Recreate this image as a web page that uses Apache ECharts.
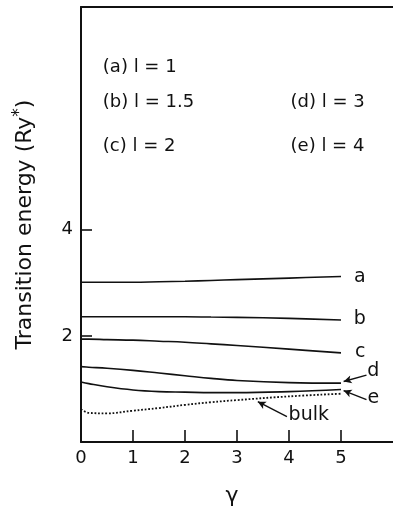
<!DOCTYPE html>
<html>
<head>
<meta charset="UTF-8">
<script src="https://cdn.jsdelivr.net/npm/echarts@6/dist/echarts.min.js"></script>
<style>
  html, body { margin: 0; padding: 0; background: #fff; }
  #chart { width: 393px; height: 516px; }
</style>
</head>
<body>
<div id="chart"></div>
<script>
// gamma values shared by all curves
const gamma = [0, 0.15, 0.5, 1, 1.5, 2, 2.5, 3, 4, 5];

// transition energies (Ry*)
const curveA = [3.01, 3.01, 3.01, 3.01, 3.02, 3.03, 3.045, 3.06, 3.09, 3.12];
const curveB = [2.36, 2.36, 2.36, 2.36, 2.36, 2.36, 2.355, 2.35, 2.33, 2.30];
const curveC = [1.94, 1.94, 1.93, 1.92, 1.90, 1.88, 1.85, 1.82, 1.75, 1.68];
const curveD = [1.42, 1.41, 1.39, 1.35, 1.30, 1.25, 1.20, 1.16, 1.12, 1.11];
const curveE = [1.13, 1.10, 1.04, 0.98, 0.95, 0.94, 0.93, 0.93, 0.95, 0.99];
const bulk   = [0.62, 0.55, 0.54, 0.59, 0.64, 0.70, 0.75, 0.79, 0.86, 0.91];

const xTickLabels = [0, 1, 2, 3, 4, 5];
const yTickLabels = [2, 4];

// curve letters next to the line ends, in data units
const curveNames = [
  { text: 'a', at: [5.36, 3.10] },
  { text: 'b', at: [5.36, 2.31] },
  { text: 'c', at: [5.37, 1.69] },
  { text: 'd', at: [5.62, 1.34] },
  { text: 'e', at: [5.62, 0.83] },
  { text: 'bulk', at: [4.38, 0.50] }
];
// arrows: [tail, head] in data units
const arrows = [
  [[5.49, 1.26], [5.05, 1.14]],
  [[5.49, 0.80], [5.05, 0.97]],
  [[3.96, 0.48], [3.40, 0.76]]
];
// parameter list in the upper area
const notes = [
  { text: '(a) l = 1',   at: [0.42, 7.06] },
  { text: '(b) l = 1.5', at: [0.42, 6.40] },
  { text: '(c) l = 2',   at: [0.42, 5.57] },
  { text: '(d) l = 3',   at: [4.03, 6.40] },
  { text: '(e) l = 4',   at: [4.03, 5.57] }
];

const ink = '#111';
const font = 'DejaVu Sans';

function pairs(ys) {
  return gamma.map((g, i) => [g, ys[i]]);
}

function curve(ys, dotted) {
  return {
    type: 'line',
    data: pairs(ys),
    smooth: 0.4,
    symbol: 'none',
    silent: true,
    lineStyle: { color: ink, width: dotted ? 1.8 : 1.6, type: dotted ? 'dotted' : 'solid' }
  };
}

const chart = echarts.init(document.getElementById('chart'));

const arrowSeries = {
  type: 'line',
  data: [],
  markLine: {
    silent: true,
    animation: false,
    symbol: ['none', 'arrow'],
    symbolSize: [6, 8],
    label: { show: false },
    lineStyle: { color: ink, width: 1.4, type: 'solid' },
    data: arrows.map(a => [{ coord: a[0] }, { coord: a[1] }])
  }
};

chart.setOption({
  animation: false,
  grid: { left: 81, top: 7, width: 314, bottom: 74 },
  xAxis: [{
    type: 'value',
    min: 0, max: 6, interval: 1,
    name: 'γ',
    nameLocation: 'middle',
    nameGap: 43,
    nameTextStyle: { fontFamily: font, fontSize: 22, color: ink, padding: [0, 10, 0, 0] },
    axisLine: { lineStyle: { color: ink, width: 2 } },
    axisTick: { inside: true, length: 12, customValues: [1, 2, 3, 4, 5], lineStyle: { color: ink, width: 1.6 } },
    axisLabel: { customValues: xTickLabels, fontFamily: font, fontSize: 18, color: ink, margin: 7 },
    splitLine: { show: false }
  }, {
    type: 'value',
    position: 'top',
    min: 0, max: 6,
    axisLine: { show: true, lineStyle: { color: ink, width: 2 } },
    axisTick: { show: false },
    axisLabel: { show: false },
    splitLine: { show: false }
  }],
  yAxis: {
    type: 'value',
    min: 0, max: 8.2, interval: 2,
    name: 'Transition energy (Ry{sup|*})',
    nameLocation: 'middle',
    nameGap: 41,
    nameTextStyle: {
      fontFamily: font, fontSize: 22, color: ink,
      rich: { sup: { fontFamily: font, fontSize: 17, color: ink, padding: [0, 0, 12, 0] } }
    },
    axisLine: { show: true, lineStyle: { color: ink, width: 2 } },
    axisTick: { show: true, inside: true, length: 11, customValues: yTickLabels, lineStyle: { color: ink, width: 1.6 } },
    axisLabel: { customValues: yTickLabels, fontFamily: font, fontSize: 18, color: ink, margin: 8 },
    splitLine: { show: false }
  },
  series: [
    curve(curveA), curve(curveB), curve(curveC),
    curve(curveD), curve(curveE), curve(bulk, true),
    arrowSeries
  ]
});

// place the text annotations from their data positions
const texts = [];
curveNames.forEach(n => {
  const p = chart.convertToPixel({ gridIndex: 0 }, n.at);
  texts.push({
    type: 'text', x: p[0], y: p[1], silent: true,
    style: { text: n.text, fontFamily: font, fontSize: 19, fill: ink, align: 'center', verticalAlign: 'middle' }
  });
});
notes.forEach(n => {
  const p = chart.convertToPixel({ gridIndex: 0 }, n.at);
  texts.push({
    type: 'text', x: p[0], y: p[1], silent: true,
    style: { text: n.text, fontFamily: font, fontSize: 18, fill: ink, align: 'left', verticalAlign: 'middle' }
  });
});
chart.setOption({ graphic: texts });
</script>
</body>
</html>
